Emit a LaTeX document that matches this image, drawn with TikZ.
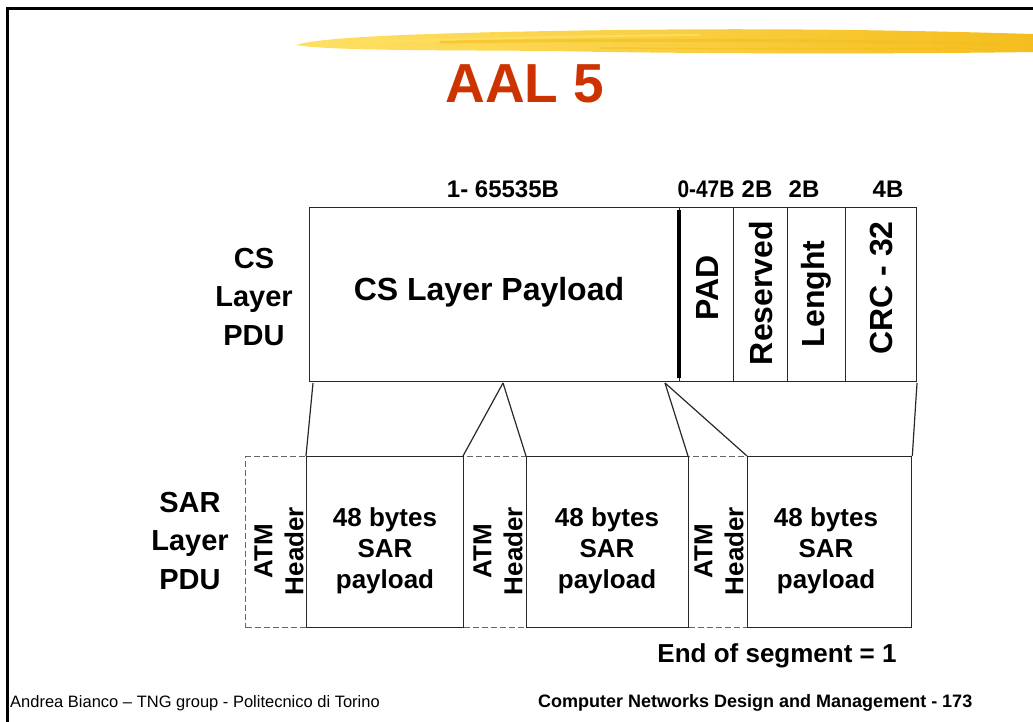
\documentclass[tikz,border=0pt]{standalone}
\usepackage{fontspec}
\setmainfont{Liberation Sans}
\definecolor{titlered}{RGB}{204,51,0}
\definecolor{brushA}{RGB}{255,224,100}
\definecolor{brushB}{RGB}{244,190,30}
\definecolor{linegray}{RGB}{40,40,40}
\begin{document}
\begin{tikzpicture}[x=1pt,y=-1pt,
  box/.style={draw=linegray, line width=1.3pt, inner sep=0pt, anchor=north west},
  hdr/.style={draw=black!60, dash pattern=on 6pt off 3pt, line width=1.1pt, inner sep=0pt, anchor=north west},
  big/.style={font=\fontsize{29}{38.5}\selectfont\bfseries, align=center, inner sep=0pt},
  field/.style={font=\fontsize{32}{38}\selectfont\bfseries, align=center, inner sep=0pt},
  mid/.style={font=\fontsize{26}{31}\selectfont\bfseries, align=center, inner sep=0pt},
  sizelbl/.style={font=\fontsize{24}{28}\selectfont\bfseries, inner sep=0pt, anchor=base},
  conn/.style={draw=linegray, line width=1.2pt}
]
\useasboundingbox (0,0) rectangle (1033,722);
% frame
\draw[line width=3pt] (7,722) -- (7,9) -- (1033,9);
% brush stroke
\shade[left color=brushA, right color=brushB]
  (296,45) .. controls (320,37) and (420,34) .. (500,32)
  .. controls (650,29) and (800,27) .. (1033,34) -- (1033,52)
  .. controls (900,54) and (700,54) .. (550,51)
  .. controls (450,50) and (330,51) .. (296,45) -- cycle;
\draw[brushB, line width=3pt, opacity=.6] (440,42) .. controls (650,39) and (850,40) .. (1033,45);
\draw[brushA, line width=2pt, opacity=.8] (320,43) .. controls (450,40) and (550,36) .. (700,35);
\draw[brushB, line width=1.5pt, opacity=.5] (600,48) .. controls (750,49) and (900,49) .. (1033,48);
% title
\node[font=\fontsize{55}{60}\selectfont\bfseries, text=titlered, anchor=base, inner sep=0pt] (title) at (525,103) {AAL 5};
% CS PDU
\node[box, minimum width=370pt, minimum height=174pt] (pay) at (309,207) {};
\node[box, minimum width=54pt, minimum height=174pt] (pad) at (679,207) {};
\node[box, minimum width=54pt, minimum height=174pt] (res) at (733,207) {};
\node[box, minimum width=58pt, minimum height=174pt] (len) at (787,207) {};
\node[box, minimum width=71pt, minimum height=174pt] (crc) at (845,207) {};
\draw[line width=4pt] (679,210) -- (679,378);
\node[field] (paytxt) at (489,292) {CS Layer Payload};
\node[field, rotate=90] (padtxt) at (707,288) {PAD};
\node[field, rotate=90] (restxt) at (761,293) {Reserved};
\node[field, rotate=90] (lentxt) at (816,294) {Lenght};
\node[field, rotate=90] (crctxt) at (881,288) {CRC - 32};
% size labels
\node[sizelbl] (s1) at (503,197) {1- 65535B};
\node[sizelbl, xscale=0.87] (s2) at (706,197) {0-47B};
\node[sizelbl] (s3) at (757,197) {2B};
\node[sizelbl] (s4) at (804,197) {2B};
\node[sizelbl] (s5) at (888,197) {4B};
% row labels
\node[big] (cslbl) at (254,297) {CS\\Layer\\PDU};
\node[big] (sarlbl) at (190,541) {SAR\\Layer\\PDU};
% SAR cells
\node[hdr, minimum width=61pt, minimum height=171pt] (h1) at (245,456) {};
\node[hdr, minimum width=63pt, minimum height=171pt] (h2) at (463,456) {};
\node[hdr, minimum width=59pt, minimum height=171pt] (h3) at (688,456) {};
\node[box, minimum width=157pt, minimum height=171pt] (p1) at (306,456) {};
\node[box, minimum width=162pt, minimum height=171pt] (p2) at (526,456) {};
\node[box, minimum width=164pt, minimum height=171pt] (p3) at (747,456) {};
\node[mid, rotate=90] (h1t) at (279,551) {ATM\\Header};
\node[mid, rotate=90] (h2t) at (498,551) {ATM\\Header};
\node[mid, rotate=90] (h3t) at (719,551) {ATM\\Header};
\node[mid] (p1t) at (385,551) {48 bytes\\SAR\\payload};
\node[mid] (p2t) at (607,551) {48 bytes\\SAR\\payload};
\node[mid] (p3t) at (826,551) {48 bytes\\SAR\\payload};
% mapping lines
\coordinate (c1) at (313,383);
\coordinate (c2) at (503,383);
\coordinate (c3) at (665,383);
\coordinate (c4) at (917,383);
\draw[conn] (c1) -- (p1.north west);
\draw[conn] (c2) -- (h2.north west);
\draw[conn] (c2) -- (p2.north west);
\draw[conn] (c3) -- (h3.north west);
\draw[conn] (c3) -- (p3.north west);
\draw[conn] (c4) -- (p3.north east);
% end of segment
\node[mid] (eos) at (777,656) {End of segment = 1};
% footer
\node[font=\fontsize{16.5}{20}\selectfont, anchor=west, inner sep=0pt] (foot1) at (10,703) {Andrea Bianco – TNG group - Politecnico di Torino};
\node[font=\fontsize{18}{20}\selectfont\bfseries, anchor=west, inner sep=0pt] (foot2) at (538,703) {Computer Networks Design and Management - 173};
\end{tikzpicture}
\end{document}
